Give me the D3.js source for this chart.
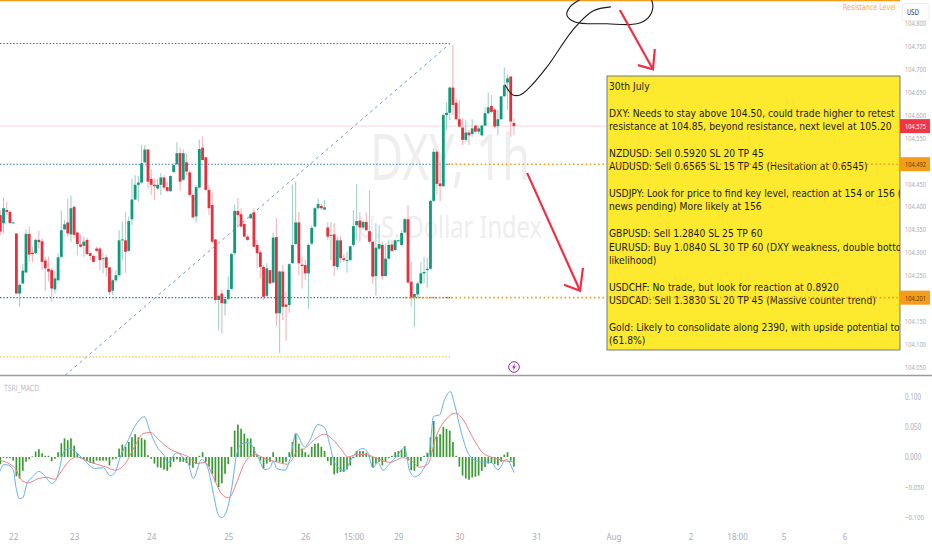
<!DOCTYPE html>
<html lang="en">
<head>
    <meta charset="UTF-8">
    <title>DXY 1h</title>
    <script src="https://cdnjs.cloudflare.com/ajax/libs/d3/7.8.5/d3.min.js"></script>
    <style>
        * { margin: 0; padding: 0; box-sizing: border-box; }
        body { background: #fff; overflow: hidden; }
        text { font-family: 'DejaVu Sans Condensed', 'DejaVu Sans', sans-serif; }
        .axis text { fill: #a9acb4; font-size: 8px; font-family: 'Noto Sans', sans-serif; }
    </style>
</head>
<body>
<div id="chart"></div>
<script>
// open, high, low, close per hourly bar
const ohlc = [
[104.381,104.392,104.338,104.345],[104.363,104.419,104.341,104.396],[104.392,104.410,104.381,104.388],[104.388,104.392,104.362,104.364],
[104.364,104.366,104.364,104.365],[104.341,104.341,104.210,104.210],[104.210,104.232,104.181,104.229],[104.232,104.274,104.231,104.260],
[104.256,104.350,104.254,104.340],[104.340,104.356,104.279,104.295],[104.299,104.312,104.279,104.296],[104.298,104.330,104.296,104.327],
[104.327,104.347,104.308,104.322],[104.324,104.330,104.261,104.279],[104.282,104.290,104.216,104.265],[104.264,104.290,104.236,104.258],
[104.261,104.265,104.192,104.221],[104.219,104.258,104.210,104.243],[104.239,104.298,104.236,104.289],[104.290,104.391,104.287,104.348],
[104.350,104.370,104.348,104.361],[104.365,104.416,104.334,104.341],[104.339,104.423,104.323,104.396],[104.399,104.403,104.330,104.338],
[104.343,104.345,104.294,104.318],[104.317,104.338,104.311,104.312],[104.314,104.334,104.290,104.323],[104.327,104.332,104.294,104.296],
[104.298,104.299,104.283,104.292],[104.292,104.294,104.277,104.279],[104.308,104.312,104.301,104.303],[104.308,104.312,104.261,104.283],
[104.285,104.298,104.254,104.287],[104.289,104.294,104.247,104.266],[104.267,104.268,104.207,104.213],[104.216,104.241,104.207,104.239],
[104.239,104.261,104.234,104.250],[104.250,104.348,104.247,104.326],[104.327,104.367,104.283,104.328],[104.326,104.388,104.255,104.301],
[104.303,104.378,104.301,104.368],[104.372,104.461,104.359,104.415],[104.415,104.468,104.414,104.447],[104.447,104.466,104.410,104.452],
[104.452,104.534,104.450,104.494],[104.496,104.534,104.494,104.524],[104.524,104.524,104.439,104.454],[104.460,104.481,104.425,104.447],
[104.447,104.461,104.414,104.444],[104.439,104.461,104.436,104.447],[104.447,104.473,104.425,104.463],[104.463,104.468,104.436,104.441],
[104.442,104.454,104.432,104.434],[104.433,104.468,104.432,104.466],[104.475,104.494,104.472,104.490],[104.492,104.540,104.490,104.516],
[104.516,104.528,104.434,104.454],[104.458,104.524,104.456,104.516],[104.496,104.516,104.468,104.476],[104.474,104.479,104.421,104.425],
[104.425,104.428,104.374,104.376],[104.378,104.447,104.365,104.442],[104.441,104.545,104.439,104.525],[104.528,104.552,104.500,104.501],
[104.507,104.508,104.434,104.436],[104.436,104.447,104.381,104.396],[104.403,104.430,104.319,104.323],[104.328,104.328,104.189,104.196],
[104.196,104.207,104.130,104.205],[104.210,104.219,104.123,104.189],[104.188,104.199,104.162,104.198],[104.198,104.247,104.196,104.218],
[104.220,104.299,104.218,104.296],[104.298,104.404,104.294,104.390],[104.390,104.418,104.356,104.381],[104.383,104.396,104.354,104.356],
[104.362,104.363,104.332,104.334],[104.334,104.338,104.325,104.327],[104.374,104.386,104.372,104.383],[104.387,104.396,104.311,104.312],
[104.316,104.327,104.265,104.298],[104.300,104.305,104.243,104.268],[104.268,104.272,104.196,104.203],[104.205,104.276,104.203,104.265],
[104.261,104.261,104.231,104.232],[104.234,104.343,104.232,104.332],[104.333,104.374,104.139,104.167],[104.167,104.261,104.081,104.258],
[104.258,104.272,104.152,104.181],[104.186,104.214,104.107,104.181],[104.185,104.276,104.168,104.274],[104.276,104.447,104.276,104.316],
[104.318,104.454,104.316,104.365],[104.365,104.388,104.250,104.276],[104.273,104.290,104.221,104.270],[104.272,104.283,104.239,104.254],
[104.254,104.319,104.177,104.316],[104.319,104.359,104.316,104.353],[104.356,104.399,104.356,104.396],[104.396,104.417,104.393,104.405],
[104.401,104.406,104.392,104.396],[104.393,104.414,104.392,104.398],[104.354,104.366,104.326,104.334],[104.337,104.366,104.283,104.338],
[104.339,104.364,104.248,104.270],[104.268,104.334,104.261,104.326],[104.326,104.335,104.276,104.287],[104.287,104.297,104.279,104.283],
[104.282,104.301,104.256,104.283],[104.283,104.313,104.281,104.313],[104.316,104.392,104.312,104.357],[104.359,104.449,104.326,104.368],
[104.369,104.388,104.323,104.354],[104.354,104.370,104.350,104.366],[104.366,104.386,104.348,104.348],[104.346,104.435,104.319,104.323],
[104.323,104.323,104.232,104.247],[104.248,104.363,104.206,104.310],[104.308,104.359,104.305,104.318],[104.316,104.323,104.239,104.248],
[104.248,104.319,104.247,104.286],[104.286,104.328,104.284,104.316],[104.317,104.326,104.301,104.303],[104.305,104.328,104.302,104.326],
[104.325,104.328,104.324,104.326],[104.316,104.348,104.313,104.342],[104.343,104.374,104.341,104.372],[104.372,104.403,104.231,104.234],
[104.236,104.279,104.181,104.201],[104.201,104.210,104.137,104.209],[104.208,104.236,104.203,104.232],[104.232,104.279,104.231,104.254],
[104.254,104.290,104.232,104.257],[104.261,104.289,104.223,104.264],[104.264,104.414,104.262,104.412],[104.412,104.526,104.410,104.519],
[104.519,104.524,104.425,104.449],[104.450,104.497,104.412,104.444],[104.444,104.603,104.443,104.599],[104.599,104.626,104.566,104.604],
[104.604,104.661,104.588,104.659],[104.659,104.752,104.599,104.621],[104.626,104.635,104.588,104.590],[104.590,104.632,104.572,104.574],
[104.572,104.592,104.534,104.545],[104.545,104.588,104.541,104.561],[104.561,104.566,104.534,104.555],[104.558,104.590,104.552,104.570],
[104.576,104.579,104.559,104.563],[104.563,104.577,104.558,104.570],[104.555,104.579,104.553,104.576],[104.576,104.616,104.575,104.603],
[104.603,104.648,104.601,104.616],[104.619,104.643,104.603,104.606],[104.611,104.614,104.570,104.574],[104.575,104.610,104.555,104.590],
[104.590,104.640,104.588,104.640],[104.640,104.703,104.639,104.664],[104.670,104.688,104.610,104.679],[104.683,104.684,104.552,104.585],
[104.582,104.592,104.555,104.575]
];

const macdHist = [
-.012,-.001,-.002,-.002,-.006,-.032,-.036,-.023,-.008,-.004,.001,.009,.013,.006,.002,.002,-.007,-.003,.008,.023,
.031,.028,.031,.019,.007,-.002,-.004,-.007,-.01,-.011,-.006,-.006,-.006,-.006,-.014,-.004,-.003,.014,.021,.017,
.025,.033,.038,.033,.032,.029,.003,-.003,-.011,-.017,-.018,-.021,-.023,-.017,-.008,-.004,-.008,-.008,-.01,-.014,
-.018,-.011,.002,.008,-.008,-.016,-.028,-.042,-.05,-.044,-.028,-.012,.017,.044,.054,.047,.039,.031,.031,.017,
.004,-.006,-.019,-.011,-.008,.008,-.008,-.008,-.01,-.008,.008,.025,.039,.022,.014,.008,.004,.017,.022,.023,
.017,.01,-.007,-.014,-.029,-.027,-.025,-.025,-.021,-.014,-.002,.01,.01,.01,.007,.002,-.017,-.011,-.008,-.014,
-.008,-.002,.002,.008,.01,.012,.018,-.006,-.022,-.023,-.016,-.007,.002,.007,.033,.06,.034,.038,.05,.047,
.044,.025,.002,-.016,-.031,-.036,-.038,-.034,-.033,-.031,-.023,-.017,-.011,-.01,-.012,-.014,-.008,.004,.008,-.006,-.016
];

// [bar, value]
const macdFast = [
[0,-.023],[.9,-.013],[2,-.013],[4,-.021],[4.9,-.051],[5.9,-.069],[7,-.068],[8.2,-.046],[10.3,-.032],[12,-.024],[13.9,-.032],[16,-.044],
[17.3,-.039],[18.6,-.015],[19.6,.007],[21.2,.014],[23.8,.007],[25.9,-.004],[29.5,-.019],[32.1,-.018],[34.2,-.031],[35.7,-.026],[37.3,-.001],
[39.9,.029],[42,.052],[44.9,.067],[46.6,.043],[48.7,.018],[50.8,.004],[52.3,-.009],[54.9,.007],[57,-.001],[58.6,-.012],[60.1,-.036],[62.7,-.004],
[64.8,-.021],[66.4,-.062],[67.9,-.096],[69,-.101],[70.5,-.09],[72.1,-.051],[73.6,.004],[75.2,.022],[77.3,.024],[79.9,.004],[82.4,-.021],[84,-.018],
[85,-.007],[86.1,-.019],[88.7,-.022],[90.2,-.004],[92.1,.039],[94.8,.017],[96.3,.027],[98.9,.054],[101,.049],[102.6,.021],[104.1,-.009],[107.2,-.023],
[109.3,-.004],[111.4,.011],[113,.014],[114.5,.007],[116.1,-.018],[117.6,-.009],[119.2,-.022],[121.3,-.011],[123.9,.004],[125.9,.016],[127.5,-.023],
[129.1,-.033],[131.7,-.021],[133.7,.01],[135,.068],[136.8,.07],[138.4,.096],[140.2,.109],[141.5,.088],[143.6,.041],[146.2,.002],[149.3,-.008],
[152.9,-.009],[155,-.021],[157.6,-.004],[160,-.026]
];
const macdSlow = [
[0,-.006],[3,-.012],[5.1,-.023],[6.3,-.037],[8.7,-.043],[11.8,-.036],[14.4,-.034],[17,-.037],[19.1,-.023],[21.2,-.008],[23.8,0],[26.9,-.006],
[30,-.012],[33.1,-.017],[35.7,-.022],[38.8,-.012],[41.4,.013],[44.5,.039],[46.6,.041],[49.7,.027],[52.9,.013],[56,.006],[58.6,0],[61.2,-.011],
[63.8,-.009],[66.4,-.034],[69,-.062],[71.2,-.068],[73.6,-.043],[76.2,-.009],[79.3,.004],[83,-.004],[86.1,-.008],[89.2,-.012],[91.3,-.001],[92.2,.009],
[94.8,.014],[97.4,.027],[101,.038],[103.6,.029],[106.2,.013],[108.3,0],[110.9,.004],[114,.004],[117.1,-.002],[121.3,-.009],[125.4,-.001],[128,-.006],
[130.6,-.017],[133.2,-.012],[135.8,.035],[138.9,.063],[141.8,.073],[144.1,.063],[147.2,.032],[150.3,.007],[153.5,-.001],[156.6,-.006],[160,-.008]
];

const priceTicks = [104.8,104.75,104.7,104.65,104.6,104.55,104.45,104.4,104.35,104.3,104.25,104.15,104.1,104.05];
const macdTicks = [.1,.05,0,-.05,-.1];
const timeBars = [4,23,47,71,95,110,124,143,167,191,215,229.5,244,263];
const timeLabels = ['22','23','24','25','26','15:00','29','30','31','Aug','2','18:00','5','6'];

const blueLevels = [104.755,104.492,104.201];
const orangeLevels = [104.492,104.201];
const lastPrice = 104.575;
const resistance = 104.85;

const noteLines = [
    '30th July', '',
    'DXY: Needs to stay above 104.50, could trade higher to retest',
    'resistance at 104.85, beyond resistance, next level at 105.20', '',
    'NZDUSD: Sell 0.5920 SL 20 TP 45',
    'AUDUSD: Sell 0.6565 SL 15 TP 45 (Hesitation at 0.6545)', '',
    'USDJPY: Look for price to find key level, reaction at 154 or 156 (',
    'news pending) More likely at 156', '',
    'GBPUSD: Sell 1.2840 SL 25 TP 60',
    'EURUSD: Buy 1.0840 SL 30 TP 60 (DXY weakness, double bottom',
    'likelihood)', '',
    'USDCHF: No trade, but look for reaction at 0.8920',
    'USDCAD: Sell 1.3830 SL 20 TP 45 (Massive counter trend)', '',
    'Gold: Likely to consolidate along 2390, with upside potential to',
    '(61.8%)'
];

// hand drawn annotations in [bar, price]
const blackCurve = [[157.2,104.665],[159.7,104.643],[161.9,104.643],[164.4,104.656],[170.3,104.704],[178.4,104.785],[184.6,104.826],[190.2,104.835]];
const blackLoop = [[181.2,104.853],[177.5,104.835],[176.5,104.817],[179,104.802],[189,104.798],[198.3,104.798],[201.8,104.811],[203.3,104.835],[202.7,104.853]];
const arrowDown = [[164.1,104.473],[180.6,104.216]];
const arrowDownHead = [[175.6,104.229],[180.6,104.216],[181.5,104.266]];
const arrowUpper = [[193,104.828],[203.3,104.699]];
const arrowUpperHead = [[198.6,104.708],[203.3,104.699],[203.9,104.743]];

const width = 932, height = 550, plotRight = 900, splitY = 375.5;

const x = d3.scaleLinear().domain([0, 160]).range([0.33, 0.33 + 160 * 3.21]);
const y = d3.scaleLinear().domain([104.65, 104.1]).range([91.7, 344]);
const yMacd = d3.scaleLinear().domain([.1, -.1]).range([397, 517]);

// squeeze a label into the narrow width the original font has
const squeeze = (sel, w) => sel.each(function () {
    const t = d3.select(this);
    const k = w / this.getComputedTextLength();
    const x0 = +t.attr('x') || 0;
    t.attr('transform', `translate(${x0 * (1 - k)},0) scale(${k},1)`);
});

const svg = d3.select('#chart').append('svg').attr('width', width).attr('height', height)
    .style('display', 'block');

svg.append('defs').append('clipPath').attr('id', 'plot')
    .append('rect').attr('width', plotRight).attr('height', splitY);
svg.append('defs').append('clipPath').attr('id', 'note')
    .append('rect').attr('x', 607).attr('y', 76).attr('width', plotRight - 607).attr('height', 274);

const main = svg.append('g').attr('clip-path', 'url(#plot)');

// watermark
main.append('text').attr('x', 370).attr('y', 180)
    .attr('fill', '#eeeeef').style('font-size', '64px').style('font-family', "'Noto Sans', sans-serif")
    .text('DXY, 1h').call(squeeze, 160);
main.append('text').attr('x', 358).attr('y', 238)
    .attr('fill', '#eeeeef').style('font-size', '30px').style('font-family', "'Noto Sans', sans-serif")
    .text('U.S. Dollar Index').call(squeeze, 184);

// levels
main.selectAll('.blue-level').data(blueLevels).enter().append('line')
    .attr('x1', 0).attr('x2', 450).attr('y1', d => y(d)).attr('y2', d => y(d))
    .attr('stroke', '#2b78c0').attr('stroke-width', 1.1).attr('stroke-dasharray', '1.5 1.8');
main.append('line').attr('x1', 0).attr('x2', 450).attr('y1', y(104.072)).attr('y2', y(104.072))
    .attr('stroke', '#f5c84c').attr('stroke-width', 1.1).attr('stroke-dasharray', '1.5 1.8');
main.append('line').attr('x1', 0).attr('x2', plotRight).attr('y1', y(lastPrice)).attr('y2', y(lastPrice))
    .attr('stroke', '#fbd5da').attr('stroke-width', 1);
main.append('line').attr('x1', 65).attr('y1', splitY).attr('x2', 450).attr('y2', y(104.755))
    .attr('stroke', '#6a9ad0').attr('stroke-width', 1).attr('stroke-dasharray', '3 3.5');
main.append('line').attr('x1', 0).attr('x2', plotRight).attr('y1', y(resistance) + 0.6).attr('y2', y(resistance) + 0.6)
    .attr('stroke', '#f59d1b').attr('stroke-width', 1.6);

// candles
const up = d => d[3] >= d[0];
main.selectAll('.wick').data(ohlc).enter().append('line')
    .attr('x1', (d, i) => x(i)).attr('x2', (d, i) => x(i))
    .attr('y1', d => y(d[1])).attr('y2', d => y(d[2]))
    .attr('stroke', d => up(d) ? '#9fd3c9' : '#f6b3ba').attr('stroke-width', 1.1);
main.selectAll('.body').data(ohlc).enter().append('rect')
    .attr('x', (d, i) => x(i) - 1.4).attr('width', 2.8)
    .attr('y', d => y(Math.max(d[0], d[3])))
    .attr('height', d => Math.max(1, Math.abs(y(d[0]) - y(d[3]))))
    .attr('fill', d => up(d) ? '#0f9a7c' : '#e5303f');

// note box
svg.append('rect').attr('x', 607).attr('y', 76).attr('width', plotRight - 607).attr('height', 274)
    .attr('fill', '#fde92e').attr('stroke', '#6f7f80').attr('stroke-width', 1);
svg.append('g').attr('clip-path', 'url(#note)')
    .append('g').attr('transform', 'translate(609,0) scale(0.93,1)')
    .selectAll('text').data(noteLines).enter().append('text')
    .attr('x', 0).attr('y', (d, i) => 89.8 + i * 13.4)
    .attr('fill', '#1c1c14').style('font-size', '11px').text(d => d);

// orange levels run over the box
svg.selectAll('.orange-level').data(orangeLevels).enter().append('line')
    .attr('x1', (d, i) => i === 0 ? 447 : 405).attr('x2', plotRight).attr('y1', d => y(d)).attr('y2', d => y(d))
    .attr('stroke', '#f59d1b').attr('stroke-width', 1.6).attr('stroke-dasharray', '1.6 2.6');

// drawings
const draw = d3.line().x(d => x(d[0])).y(d => y(d[1]));
const annotations = svg.append('g').attr('clip-path', 'url(#plot)').attr('fill', 'none');
annotations.append('path').attr('d', draw.curve(d3.curveCatmullRom)(blackCurve)).attr('stroke', '#1a1a1a').attr('stroke-width', 1.1);
annotations.append('path').attr('d', draw.curve(d3.curveCatmullRom)(blackLoop)).attr('stroke', '#1a1a1a').attr('stroke-width', 1.1);
draw.curve(d3.curveLinear);
[arrowDown, arrowDownHead, arrowUpper, arrowUpperHead].forEach(pts => {
    annotations.append('path').attr('d', draw(pts)).attr('stroke', '#ee2f45').attr('stroke-width', 2.2);
});

svg.append('text').attr('x', 843).attr('y', 10.5)
    .attr('fill', '#f7ab52').style('font-size', '8.5px').text('Resistance Level').call(squeeze, 53);

// lightning marker
const bolt = svg.append('g').attr('transform', `translate(514,367)`);
bolt.append('circle').attr('r', 5.3).attr('fill', '#fff').attr('stroke', '#9c27b0').attr('stroke-width', 1);
bolt.append('path').attr('d', 'M1,-3.4L-2,0.6H-0.2L-1,3.4L2,-0.6H0.2Z').attr('fill', '#9c27b0');

// separator
svg.append('line').attr('x1', 0).attr('x2', width).attr('y1', splitY).attr('y2', splitY)
    .attr('stroke', '#9b9b9f').attr('stroke-width', 1.4);

// lower pane
svg.append('text').attr('x', 4).attr('y', 391).attr('fill', '#bcbec4').style('font-size', '8.5px').text('TSRI_MACD').call(squeeze, 35);
svg.selectAll('.hist').data(macdHist).enter().append('rect')
    .attr('x', (d, i) => x(i) - 0.85).attr('width', 1.7)
    .attr('y', d => Math.min(yMacd(d), yMacd(0)))
    .attr('height', d => Math.max(0.8, Math.abs(yMacd(d) - yMacd(0))))
    .attr('fill', '#3c9a35');
const macdLine = d3.line().x(d => x(d[0])).y(d => yMacd(d[1])).curve(d3.curveMonotoneX);
svg.append('path').attr('d', macdLine(macdFast)).attr('fill', 'none').attr('stroke', '#62b1ee').attr('stroke-width', 1);
svg.append('path').attr('d', macdLine(macdSlow)).attr('fill', 'none').attr('stroke', '#ee7f86').attr('stroke-width', 1);

// axes
const priceAxis = svg.append('g').attr('class', 'axis').attr('transform', `translate(${plotRight + 5},0)`)
    .call(d3.axisRight(y).tickValues(priceTicks).tickSize(0).tickPadding(0).tickFormat(d3.format('.3f')));
priceAxis.select('.domain').remove();
priceAxis.selectAll('text').call(squeeze, 21);
const macdAxis = svg.append('g').attr('class', 'axis').attr('transform', `translate(${plotRight + 5},0)`)
    .call(d3.axisRight(yMacd).tickValues(macdTicks).tickSize(0).tickPadding(0).tickFormat(d3.format('.3f')));
macdAxis.select('.domain').remove();
macdAxis.selectAll('text').each(function (d) { d3.select(this).call(squeeze, d < 0 ? 19 : 16); });
const timeAxis = svg.append('g').attr('class', 'axis').attr('transform', 'translate(0,534)')
    .call(d3.axisBottom(x).tickValues(timeBars).tickSize(0).tickPadding(0).tickFormat((d, i) => timeLabels[i]));
timeAxis.select('.domain').remove();

// price tags
const tags = [[lastPrice, '#f23645', '#fff'], [104.492, '#f59d1b', '#5a3a00'], [104.201, '#f59d1b', '#5a3a00']];
const tag = svg.selectAll('.tag').data(tags).enter().append('g')
    .attr('transform', d => `translate(${plotRight},${y(d[0])})`);
tag.append('rect').attr('x', 0).attr('y', -7).attr('width', 30).attr('height', 14).attr('fill', d => d[1]);
tag.append('text').attr('x', 5).attr('y', 3)
    .attr('fill', d => d[2]).style('font-size', '8px').style('font-family', "'Noto Sans', sans-serif")
    .text(d => d[0].toFixed(3)).call(squeeze, 21);

// currency box
svg.append('rect').attr('x', 902).attr('y', 3.5).attr('width', 27).attr('height', 17).attr('rx', 2)
    .attr('fill', '#fff').attr('stroke', '#eeeef0');
svg.append('text').attr('x', 907).attr('y', 15).attr('fill', '#333').style('font-size', '8px').text('USD').call(squeeze, 12);
</script>
</body>
</html>
